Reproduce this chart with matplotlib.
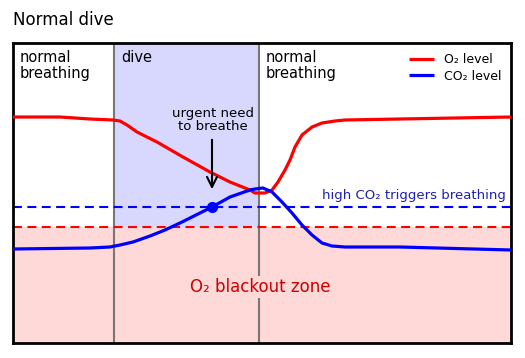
import matplotlib
matplotlib.use("Agg")
import matplotlib.pyplot as plt

# time (arbitrary units) and gas levels (arbitrary units)
o2_t = [0, 47, 77, 100, 107, 114, 124, 144, 170, 197, 217, 237, 242, 252, 259, 265, 272, 277,
        282, 289, 299, 309, 322, 332, 387, 498]
o2_v = [226, 226, 224, 223, 222, 218, 211, 201, 186, 171, 161, 153, 150, 150, 153, 161, 173, 183,
        196, 208, 216, 220, 222, 223, 224, 226]

co2_t = [0, 77, 97, 107, 120, 137, 152, 167, 183, 199, 217, 237, 242, 250, 259, 269, 279, 289,
         299, 309, 319, 332, 387, 498]
co2_v = [94, 95, 96, 98, 101, 107, 113, 120, 128, 136, 146, 153, 154, 155, 151, 141, 130, 118,
         108, 100, 97, 96, 96, 93]

dive_start = 101
dive_end = 246
co2_trigger = 136
o2_blackout = 116
urge_t = 199
urge_v = 136

fig = plt.figure(figsize=(5.25, 3.58), dpi=100)
ax = fig.add_axes([13/525, 15/358, 498/525, 300/358])
ax.set_xlim(0, 498)
ax.set_ylim(0, 300)
ax.set_xticks([])
ax.set_yticks([])
for s in ax.spines.values():
    s.set_linewidth(2)
    s.set_color("black")

ax.axvspan(dive_start, dive_end, color="#d8d8ff", zorder=0, lw=0)
ax.axhspan(0, o2_blackout, color="#ffd8d8", zorder=0.5, lw=0)
ax.axvline(dive_start, color="#777777", lw=1.5, zorder=1)
ax.axvline(dive_end, color="#777777", lw=1.5, zorder=1)

ax.axhline(co2_trigger, color="blue", lw=1.5, ls=(0, (4.3, 2.6)), zorder=2)
ax.axhline(o2_blackout, color="red", lw=1.5, ls=(0, (4.3, 2.6)), zorder=2)

ax.plot(o2_t, o2_v, color="red", lw=2.3, label="O₂ level", zorder=3,
        solid_joinstyle="round", solid_capstyle="butt")
ax.plot(co2_t, co2_v, color="blue", lw=2.3, label="CO₂ level", zorder=3,
        solid_joinstyle="round", solid_capstyle="butt")
ax.plot([urge_t], [urge_v], "o", color="blue", ms=7, zorder=4)

ax.annotate("", xy=(urge_t, 151), xytext=(urge_t, 206),
            arrowprops=dict(arrowstyle="->", color="black", lw=1.5, mutation_scale=18), zorder=5)
ax.text(urge_t + 1, 223, "urgent need\nto breathe", ha="center", va="center", fontsize=9.5, linespacing=1.1)

ax.text(7, 293, "normal\nbreathing", ha="left", va="top", fontsize=10.5, linespacing=1.1)
ax.text(108, 293, "dive", ha="left", va="top", fontsize=10.5)
ax.text(253, 293, "normal\nbreathing", ha="left", va="top", fontsize=10.5, linespacing=1.1)

ax.text(493, 148, "high CO₂ triggers breathing", ha="right", va="center", fontsize=9.5, color="#2020b0")
ax.text(247, 56, "O₂ blackout zone", ha="center", va="center", fontsize=12, color="#cc0000",
        zorder=6, bbox=dict(facecolor="#ffd8d8", edgecolor="none", pad=1.5))

ax.legend(loc="upper right", frameon=False, fontsize=9, handlelength=2.0,
          borderaxespad=0.4, labelspacing=0.3)

fig.text(13/525, 1 - 20/358, "Normal dive", ha="left", va="center", fontsize=12)

fig.savefig("out.png", dpi=100)
